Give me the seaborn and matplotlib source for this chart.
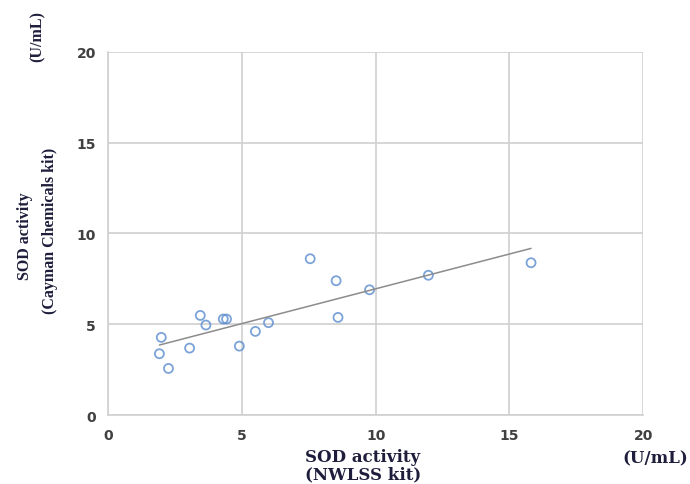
import numpy as np
import seaborn as sns
import matplotlib
matplotlib.use('Agg')
import matplotlib.pyplot as plt

# 数据: NWLSS kit (x) vs Cayman Chemicals kit (y), 单位 U/mL
nwlss = [1.98, 1.91, 2.25, 3.04, 3.44, 3.65, 4.30, 4.42, 4.90, 5.50, 5.99,
         7.55, 8.52, 8.59, 9.77, 11.97, 15.81]
cayman = [4.28, 3.38, 2.57, 3.69, 5.49, 4.96, 5.29, 5.29, 3.80, 4.61, 5.09,
          8.61, 7.40, 5.38, 6.90, 7.70, 8.39]
ticks = [0, 5, 10, 15, 20]

sns.set_style('white')
plt.rcParams['font.family'] = ['DejaVu Sans']

fig = plt.figure(figsize=(6.9, 4.85), dpi=100)
ax = fig.add_axes([0.157, 0.142, 0.775, 0.749])

# 散点(空心圆) + 线性趋势线
sns.regplot(x=nwlss, y=cayman, ax=ax, ci=None,
            scatter_kws=dict(s=42, facecolors='none', edgecolors='#5b8ccf', linewidths=1.3),
            line_kws=dict(color='#8c8c8c', linewidth=1.1))

ax.set_xlim(0, 20)
ax.set_ylim(0, 20)
ax.set_xticks(ticks)
ax.set_yticks(ticks)
ax.grid(True, color='#d0d0d0', linewidth=1.2)
ax.set_axisbelow(True)
for s in ['top', 'right']:
    ax.spines[s].set_visible(False)
for s in ['left', 'bottom']:
    ax.spines[s].set_color('#d0d0d0')
    ax.spines[s].set_linewidth(1.2)
ax.tick_params(axis='both', length=5, color='#d0d0d0', width=1.2,
               labelsize=10, labelcolor='#404040', pad=4)
for lab in ax.get_xticklabels() + ax.get_yticklabels():
    lab.set_fontweight('bold')
ax.set_xlabel('')
ax.set_ylabel('')

# 轴标题 (衬线粗体), 按像素位置放置
W, H = 690, 485
xkw = dict(family='DejaVu Serif', fontweight='bold', fontsize=12, color='#1e1e3c', va='center')
fig.text(305 / W, 1 - 458 / H, 'SOD activity', ha='left', **xkw)
fig.text(305 / W, 1 - 475 / H, '(NWLSS kit)', ha='left', **xkw)
fig.text(655 / W, 1 - 459 / H, '(U/mL)', ha='center', **xkw)

ykw = dict(family='Liberation Serif', fontweight='bold', fontsize=11.5, color='#1e1e3c',
           ha='center', va='center', rotation=90)
fig.text(25 / W, 1 - 236 / H, 'SOD activity', **ykw)
fig.text(50 / W, 1 - 231 / H, '(Cayman Chemicals kit)', **ykw)
fig.text(38 / W, 1 - 37 / H, '(U/mL)', **ykw)

fig.savefig('out.png', dpi=100)
